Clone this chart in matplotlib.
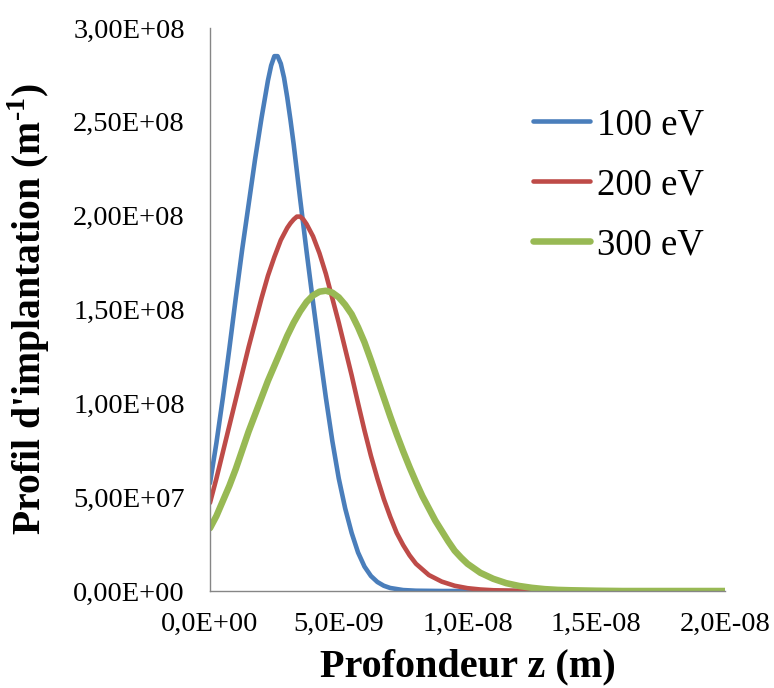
import numpy as np
import matplotlib
matplotlib.use("Agg")
import matplotlib.pyplot as plt
from matplotlib.ticker import MultipleLocator, FuncFormatter


# profondeur en nm, profil en unites de 1e8 m^-1
depth_100 = [0, 0.25, 0.5, 0.75, 1.0, 1.25, 1.5, 1.75, 2.0, 2.25, 2.375, 2.5,
             2.625, 2.75, 2.875, 3.0, 3.125, 3.25, 3.5, 3.75, 4.0, 4.25, 4.5,
             4.75, 5.0, 5.25, 5.5, 5.75, 6.0, 6.25, 6.5, 6.75, 7.0, 7.5, 8.0,
             9.0, 12.0, 16.0, 20.0]
prof_100 = [0.575, 0.79, 1.03, 1.29, 1.56, 1.82, 2.06, 2.30, 2.52, 2.72, 2.80,
            2.85, 2.85, 2.81, 2.735, 2.63, 2.51, 2.38, 2.09, 1.81, 1.54, 1.28,
            1.03, 0.80, 0.60, 0.44, 0.31, 0.205, 0.13, 0.08, 0.048, 0.028,
            0.016, 0.005, 0.0015, 0, 0, 0, 0]

depth_200 = [0, 0.25, 0.5, 0.75, 1.0, 1.25, 1.5, 1.75, 2.0, 2.25, 2.5, 2.75,
             3.0, 3.125, 3.25, 3.375, 3.5, 3.625, 3.75, 4.0, 4.25, 4.5, 4.75,
             5.0, 5.25, 5.5, 5.75, 6.0, 6.25, 6.5, 6.75, 7.0, 7.25, 7.5, 7.75,
             8.0, 8.5, 9.0, 9.5, 10.0, 10.5, 11.0, 12.0, 13.0, 16.0, 20.0]
prof_200 = [0.47, 0.60, 0.74, 0.88, 1.02, 1.16, 1.30, 1.43, 1.56, 1.68, 1.78,
            1.87, 1.935, 1.96, 1.98, 1.995, 1.995, 1.98, 1.955, 1.89, 1.80,
            1.69, 1.56, 1.43, 1.29, 1.15, 1.00, 0.855, 0.72, 0.60, 0.49, 0.395,
            0.31, 0.245, 0.19, 0.145, 0.085, 0.05, 0.028, 0.015, 0.008, 0.004,
            0.001, 0, 0, 0]

depth_300 = [0, 0.25, 0.5, 0.75, 1.0, 1.25, 1.5, 1.75, 2.0, 2.25, 2.5, 2.75,
             3.0, 3.25, 3.5, 3.75, 4.0, 4.25, 4.5, 4.75, 5.0, 5.25, 5.5, 5.75,
             6.0, 6.25, 6.5, 6.75, 7.0, 7.25, 7.5, 7.75, 8.0, 8.25, 8.5, 8.75,
             9.0, 9.25, 9.5, 9.75, 10.0, 10.5, 11.0, 11.5, 12.0, 12.5, 13.0,
             13.5, 14.0, 15.0, 16.0, 20.0]
prof_300 = [0.335, 0.40, 0.48, 0.56, 0.65, 0.75, 0.85, 0.94, 1.03, 1.12, 1.20,
            1.28, 1.36, 1.43, 1.49, 1.54, 1.575, 1.595, 1.60, 1.59, 1.565,
            1.525, 1.475, 1.405, 1.325, 1.23, 1.13, 1.03, 0.93, 0.835, 0.745,
            0.66, 0.58, 0.505, 0.44, 0.375, 0.32, 0.265, 0.215, 0.178, 0.145,
            0.097, 0.065, 0.042, 0.027, 0.017, 0.010, 0.006, 0.004, 0.0015, 0,
            0]

labels = ["100 eV", "200 eV", "300 eV"]
colors = ["#4A7EBB", "#BE4B48", "#98B954"]
widths = [3.3, 3.3, 4.7]


def sci_comma(ndig):
    def fmt(v, pos):
        return f"{v:.{ndig}E}".replace(".", ",")
    return FuncFormatter(fmt)


def main():
    plt.rcParams["font.family"] = ["Liberation Serif", "DejaVu Serif"]
    plt.rcParams["mathtext.fontset"] = "custom"
    plt.rcParams["mathtext.rm"] = "Liberation Serif:bold"
    plt.rcParams["mathtext.bf"] = "Liberation Serif:bold"

    fig = plt.figure(figsize=(7.74, 6.88), dpi=100)
    ax = fig.add_axes([210 / 774, 1 - 591 / 688, 515 / 774, 563 / 688])

    series = [(depth_100, prof_100), (depth_200, prof_200), (depth_300, prof_300)]
    for (d, p), lab, c, lw in zip(series, labels, colors, widths):
        ax.plot(np.array(d) * 1e-9, np.array(p) * 1e8, color=c, linewidth=lw,
                label=lab, solid_capstyle="round", solid_joinstyle="round")

    ax.set_xlim(0, 2e-8)
    ax.set_ylim(0, 3e8)
    ax.xaxis.set_major_locator(MultipleLocator(5e-9))
    ax.yaxis.set_major_locator(MultipleLocator(5e7))
    ax.xaxis.set_major_formatter(sci_comma(1))
    ax.yaxis.set_major_formatter(sci_comma(2))
    ax.tick_params(length=0, labelsize=20.5)
    ax.tick_params(axis="y", pad=18)
    ax.tick_params(axis="x", pad=15)

    for s in ["top", "right"]:
        ax.spines[s].set_visible(False)
    for s in ["left", "bottom"]:
        ax.spines[s].set_color("#868686")
        ax.spines[s].set_linewidth(1.0)

    ax.set_xlabel("Profondeur z (m)", fontsize=29, fontweight="bold", labelpad=8)
    ax.set_ylabel("Profil d'implantation (m$^{\\text{-1}}$)", fontsize=28.5,
                  fontweight="bold", labelpad=15)

    fig.legend(loc="center left", bbox_to_anchor=(533 / 774, 1 - 185 / 688),
               frameon=False, fontsize=26.5, handlelength=1.55,
               handletextpad=0.2, labelspacing=0.69, borderpad=0,
               borderaxespad=0)

    plt.savefig("out.png", dpi=100)
    plt.close(fig)


if __name__ == "__main__":
    main()
